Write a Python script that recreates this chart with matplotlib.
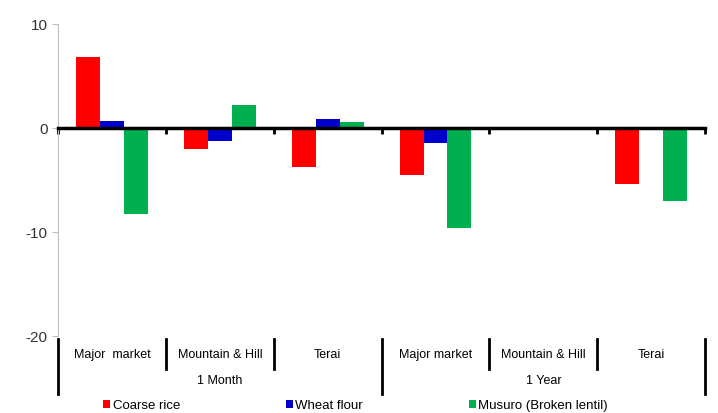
import numpy as np
import matplotlib.pyplot as plt
import matplotlib.transforms as mtransforms

plt.rcParams['font.family'] = ['Liberation Sans', 'DejaVu Sans']
plt.rcParams['axes.unicode_minus'] = False

# Data
markets = ["Major  market", "Mountain & Hill", "Terai",
           "Major market", "Mountain & Hill", "Terai"]
periods = ["1 Month", "1 Year"]
coarse_rice = [6.8, -2.0, -3.8, -4.5, 0.0, -5.4]
wheat_flour = [0.7, -1.3, 0.9, -1.5, 0.0, 0.0]
musuro = [-8.3, 2.2, 0.6, -9.6, 0.0, -7.0]

series = [("Coarse rice", coarse_rice, "#ff0000"),
          ("Wheat flour", wheat_flour, "#0000cc"),
          ("Musuro (Broken lentil)", musuro, "#00b050")]

fig = plt.figure(figsize=(7.18, 4.14), dpi=100)
ax = fig.add_axes([0.081, 0.186, 0.901, 0.754])

x = np.arange(len(markets))
w = 0.222
for i, (name, vals, col) in enumerate(series):
    ax.bar(x + (i - 1) * w, vals, w, color=col, label=name, zorder=2)

ax.set_xlim(-0.5, len(markets) - 0.5)
ax.set_ylim(-20, 10)
ax.set_yticks([10, 0, -10, -20])

# zero line acts as the category axis
ax.spines['bottom'].set_position(('data', 0))
ax.spines['bottom'].set_linewidth(2.5)
ax.spines['bottom'].set_zorder(3)
ax.spines['top'].set_visible(False)
ax.spines['right'].set_visible(False)
ax.spines['left'].set_color('#c0c0c0')
ax.set_xticks(np.arange(len(markets) + 1) - 0.5)
ax.set_xticklabels([])
ax.tick_params(axis='x', direction='out', length=4, width=2, color='black')
ax.tick_params(axis='y', direction='out', length=4, color='#c0c0c0',
               labelsize=11, labelcolor='#333333')

# multi-level category labels below the plot
trans = mtransforms.blended_transform_factory(ax.transData, ax.transAxes)
for i, m in enumerate(markets):
    ax.text(i, -0.058, m, transform=trans, ha='center', va='center', fontsize=9)
for j, p in enumerate(periods):
    ax.text(j * 3 + 1, -0.141, p, transform=trans, ha='center', va='center', fontsize=9)
for k in range(len(markets) + 1):
    bottom = -0.186 if k % 3 == 0 else -0.106
    ax.plot([k - 0.5, k - 0.5], [-0.01, bottom], transform=trans,
            color='black', lw=2, clip_on=False)

fig.legend(loc='lower center', bbox_to_anchor=(0.495, -0.025), ncol=3,
           frameon=False, fontsize=9.5, handlelength=0.55, handleheight=0.55,
           handletextpad=0.2, columnspacing=8.0)

fig.savefig('out.png', dpi=100)
